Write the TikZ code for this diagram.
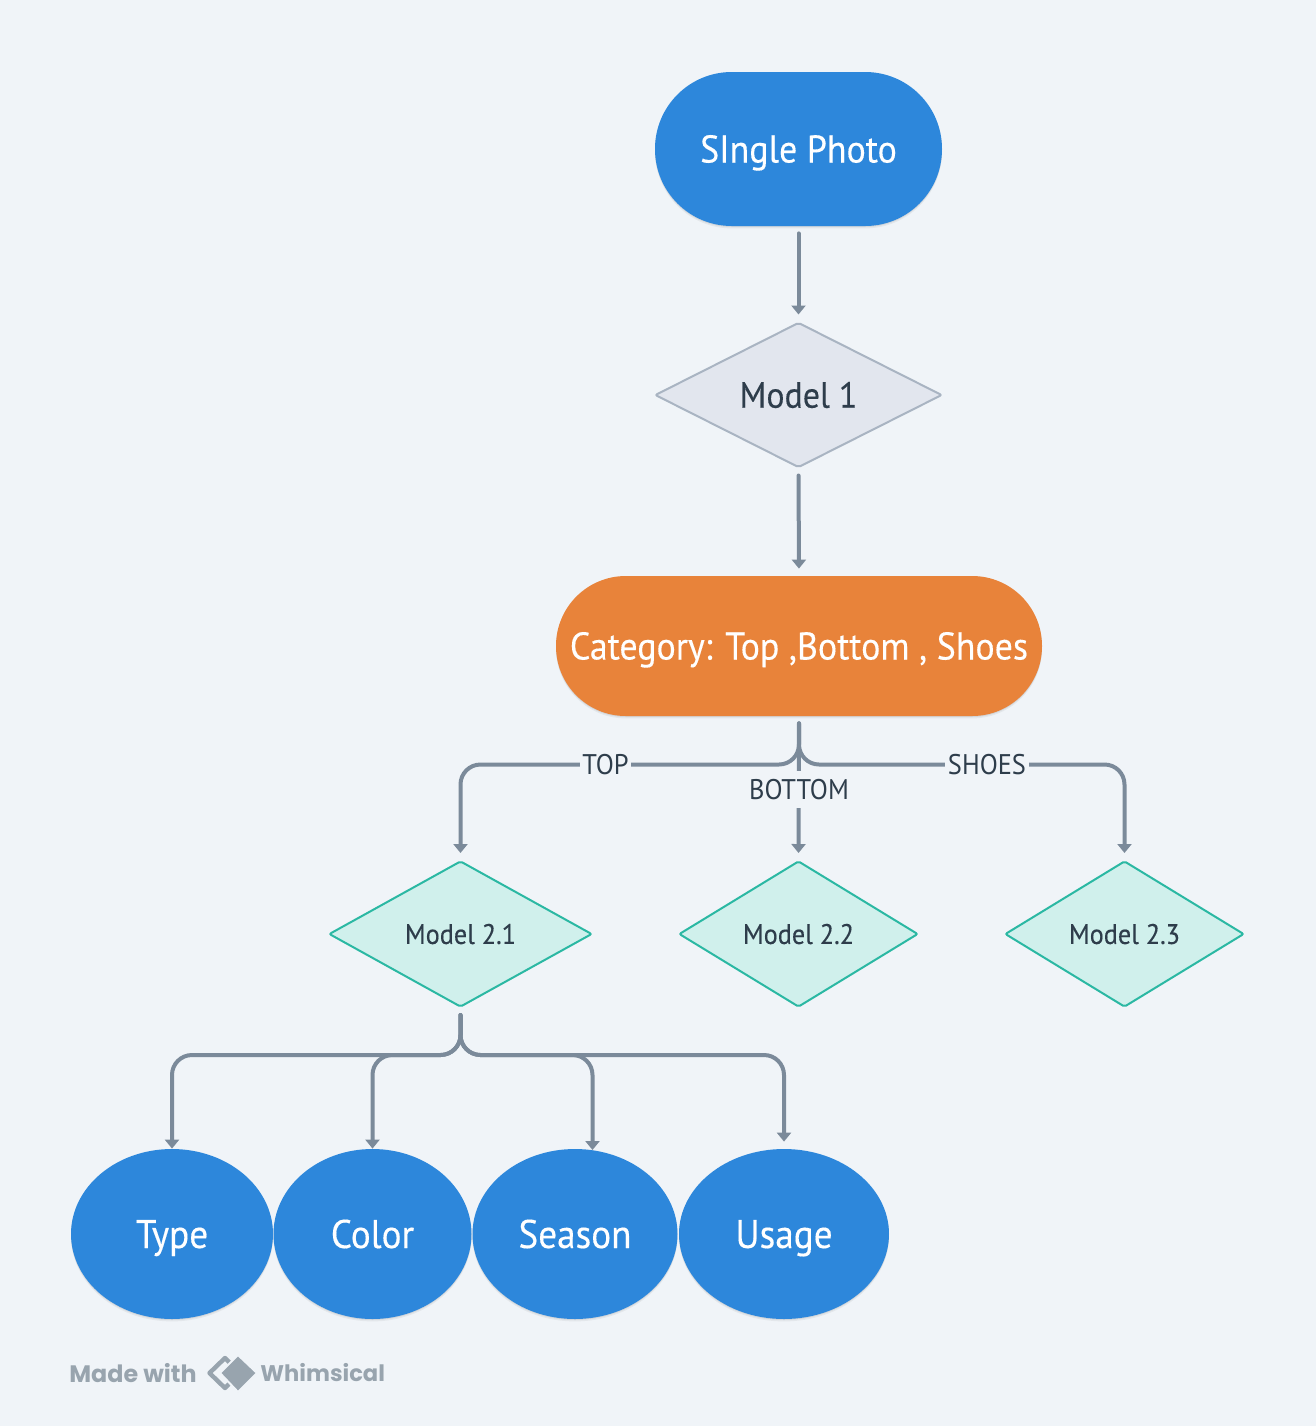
\documentclass[tikz,border=0pt]{standalone}
\usepackage{fontspec}
\setmainfont[FakeStretch=0.93,FakeBold=0.25]{PT Sans}
\newfontfamily\labfont[FakeStretch=0.93]{PT Sans}
\newfontfamily\markfont{Poppins Bold}
\usetikzlibrary{shapes.geometric,arrows.meta,shadows}
\definecolor{bg}{HTML}{F0F4F8}
\definecolor{blueN}{HTML}{2D87DB}
\definecolor{orangeN}{HTML}{E8833A}
\definecolor{grayF}{HTML}{E2E6EE}
\definecolor{grayB}{HTML}{A9B4C2}
\definecolor{tealF}{HTML}{D0F0EC}
\definecolor{tealB}{HTML}{2BB8A3}
\definecolor{lineC}{HTML}{7B8A9A}
\definecolor{inkC}{HTML}{2E3D4B}
\definecolor{markC}{HTML}{98A4AE}
\tikzset{
  softshadow/.style={general shadow={shadow yshift=-1.2pt,fill=black,opacity=.05},general shadow={shadow yshift=-.5pt,fill=black,opacity=.07}},
  pill/.style={rectangle,fill=#1,text=white,inner sep=0pt,softshadow,text height=13.5pt,text depth=0pt,font=\fontsize{19.3}{22}\selectfont},
  oval/.style={ellipse,fill=blueN,text=white,inner sep=0pt,softshadow,text height=14pt,text depth=0pt,minimum height=85pt,font=\fontsize{20}{22}\selectfont},
  model/.style={diamond,aspect=1.8,inner sep=0pt,rounded corners=1pt,line width=1pt,text=inkC,text depth=0pt},
  modelone/.style={model,fill=grayF,draw=grayB,text height=12.7pt,font=\fontsize{18.2}{20}\selectfont},
  modeltwo/.style={model,fill=tealF,draw=tealB,text height=9.9pt,minimum height=73pt,font=\fontsize{14.1}{16}\selectfont},
  conn/.style={draw=lineC,line width=2pt,line cap=round,rounded corners=10pt,-{Triangle[length=4.5pt,width=7pt]}},
  lab/.style={fill=bg,text=inkC,inner xsep=1.4pt,inner ysep=2pt,text height=9.9pt,text depth=0pt,font=\labfont\fontsize{14.2}{16}\selectfont},
  markT/.style={text=markC,inner sep=0pt,anchor=west,font=\markfont},
}
\begin{document}
\begin{tikzpicture}[x=0.5pt,y=-0.5pt]
\fill[bg] (0,0) rectangle (1316,1426);
\useasboundingbox (0,0) rectangle (1316,1426);
% nodes
\node[pill=blueN,minimum width=143.5pt,minimum height=77pt,rounded corners=38.4pt] (photo) at (798.5,149) {SIngle Photo};
\node[modelone,minimum width=143.5pt,minimum height=72.5pt] (m1) at (798.5,395) {Model 1};
\node[pill=orangeN,minimum width=243pt,minimum height=70pt,rounded corners=34.9pt] (cat) at (799,646) {Category: Top ,Bottom , Shoes};
\node[modeltwo,minimum width=131.5pt] (m21) at (460.5,934) {Model 2.1};
\node[modeltwo,minimum width=119.5pt] (m22) at (798.5,934) {Model 2.2};
\node[modeltwo,minimum width=119.5pt] (m23) at (1124.5,934) {Model 2.3};
\node[oval,minimum width=101pt] (type) at (172,1234) {Type};
\node[oval,minimum width=99pt] (color) at (372.5,1234) {Color};
\node[oval,minimum width=102.5pt] (season) at (575,1234) {Season};
\node[oval,minimum width=105pt] (usage) at (784,1234) {Usage};
% routing levels
\coordinate (busA) at (0,764.5);
\coordinate (busB) at (0,1055);
\coordinate (seasonIn) at (592.5,1150);
% connectors
\draw[conn,shorten <=3.5pt,shorten >=3.5pt] (photo.south) -- (m1.north);
\draw[conn,shorten <=3.5pt,shorten >=3.5pt] (m1.south) -- (cat.north);
\draw[conn,shorten <=3.5pt,shorten >=3.5pt] (cat.south) -- (cat.south |- busA) -- (m21.north |- busA) -- (m21.north);
\draw[conn,shorten <=3.5pt,shorten >=3.5pt] (cat.south) -- (m22.north);
\draw[conn,shorten <=3.5pt,shorten >=3.5pt] (cat.south) -- (cat.south |- busA) -- (m23.north |- busA) -- (m23.north);
\draw[conn,shorten <=3.5pt] (m21.south) -- (m21.south |- busB) -- (type.north |- busB) -- (type.north);
\draw[conn,shorten <=3.5pt] (m21.south) -- (m21.south |- busB) -- (color.north |- busB) -- (color.north);
\draw[conn,shorten <=3.5pt] (m21.south) -- (m21.south |- busB) -- (seasonIn |- busB) -- (seasonIn);
\draw[conn,shorten <=3.5pt,shorten >=3.5pt] (m21.south) -- (m21.south |- busB) -- (usage.north |- busB) -- (usage.north);
% labels
\node[lab] (ltop) at (605.5,765) {TOP};
\node[lab,minimum height=18.5pt] (lbot) at (799,789.5) {BOTTOM};
\node[lab] (lsho) at (987,765) {SHOES};
% watermark
\node[markT,font=\markfont\fontsize{11.9}{14}\selectfont] (made) at (69,1373) {Made with};
\node[markT,font=\markfont\fontsize{11.3}{14}\selectfont] (whim) at (260,1373) {Whimsical};
\draw[markC,line width=2.2pt,line join=round] (225,1358) -- (209.5,1373) -- (225,1388) -- (240,1373) -- cycle;
\fill[markC,draw=bg,line width=1pt,line join=round] (238,1355) -- (257,1373) -- (238,1392) -- (220,1373) -- cycle;
\end{tikzpicture}
\end{document}
